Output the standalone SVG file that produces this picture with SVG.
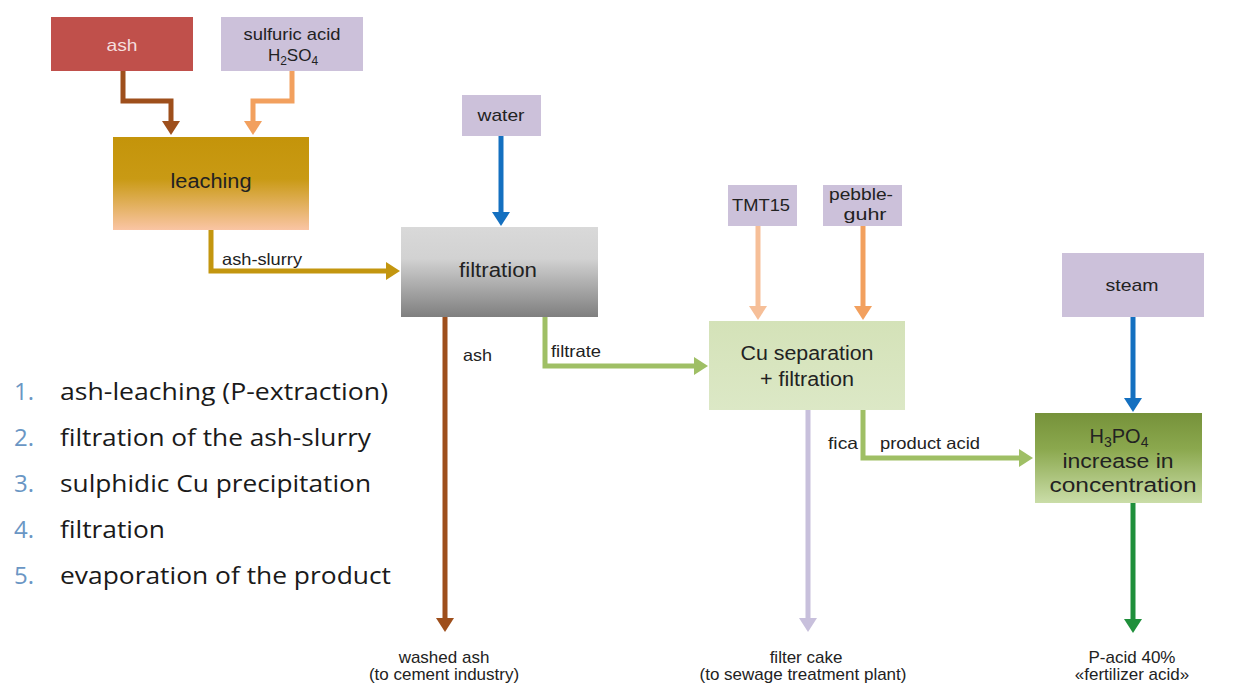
<svg xmlns="http://www.w3.org/2000/svg" width="1233" height="684" viewBox="0 0 1233 684">
<style>
.lbl{font-family:"Liberation Sans",Arial,sans-serif;fill:#222222;text-anchor:middle}
.big{font-size:20px}
.mid{font-size:17px}
.sm{font-size:17px}
.cl{font-family:"Liberation Sans",Arial,sans-serif;font-size:16.5px;fill:#222222}
.list{font-family:"Open Sans","Noto Sans",sans-serif;font-size:24px;fill:#1a1a1a}
.num{font-family:"Open Sans","Noto Sans",sans-serif;font-size:24px;fill:#6a96c4}
.c{fill:none;stroke-width:5}
.lav{fill:#ccc1da}
</style>
<defs>
<linearGradient id="gLeach" x1="0" y1="0" x2="0" y2="1">
<stop offset="0" stop-color="#c4940a"/><stop offset="0.45" stop-color="#c99a14"/><stop offset="1" stop-color="#fac5a4"/>
</linearGradient>
<linearGradient id="gFilt" x1="0" y1="0" x2="0" y2="1">
<stop offset="0" stop-color="#d9d9d9"/><stop offset="0.35" stop-color="#d2d2d2"/><stop offset="1" stop-color="#7f7f7f"/>
</linearGradient>
<linearGradient id="gCu" x1="0" y1="0" x2="0" y2="1">
<stop offset="0" stop-color="#d4e2b8"/><stop offset="1" stop-color="#dce8c6"/>
</linearGradient>
<linearGradient id="gH" x1="0" y1="0" x2="0" y2="1">
<stop offset="0" stop-color="#76923a"/><stop offset="0.4" stop-color="#8ba84e"/><stop offset="1" stop-color="#cadda8"/>
</linearGradient>
<marker id="mBrown" markerUnits="userSpaceOnUse" markerWidth="14" markerHeight="18" refX="4" refY="9" orient="auto"><path d="M0,0 L14,9 L0,18 z" fill="#9e4f1c"/></marker>
<marker id="mOrange" markerUnits="userSpaceOnUse" markerWidth="14" markerHeight="18" refX="4" refY="9" orient="auto"><path d="M0,0 L14,9 L0,18 z" fill="#f2a05e"/></marker>
<marker id="mPeach" markerUnits="userSpaceOnUse" markerWidth="14" markerHeight="18" refX="4" refY="9" orient="auto"><path d="M0,0 L14,9 L0,18 z" fill="#f6bf98"/></marker>
<marker id="mGold" markerUnits="userSpaceOnUse" markerWidth="14" markerHeight="18" refX="4" refY="9" orient="auto"><path d="M0,0 L14,9 L0,18 z" fill="#c3960f"/></marker>
<marker id="mBlue" markerUnits="userSpaceOnUse" markerWidth="14" markerHeight="18" refX="4" refY="9" orient="auto"><path d="M0,0 L14,9 L0,18 z" fill="#1470c0"/></marker>
<marker id="mLGreen" markerUnits="userSpaceOnUse" markerWidth="14" markerHeight="18" refX="4" refY="9" orient="auto"><path d="M0,0 L14,9 L0,18 z" fill="#9fbf65"/></marker>
<marker id="mLav" markerUnits="userSpaceOnUse" markerWidth="14" markerHeight="18" refX="4" refY="9" orient="auto"><path d="M0,0 L14,9 L0,18 z" fill="#c8c0dc"/></marker>
<marker id="mDGreen" markerUnits="userSpaceOnUse" markerWidth="14" markerHeight="18" refX="4" refY="9" orient="auto"><path d="M0,0 L14,9 L0,18 z" fill="#1f8f3b"/></marker>
</defs>
<rect width="1233" height="684" fill="#ffffff"/>

<g id="connectors">
<path class="c" d="M123,71 V101 H171 V125" stroke="#9e4f1c" marker-end="url(#mBrown)"/>
<path class="c" d="M292,71 V101 H253 V125" stroke="#f2a05e" marker-end="url(#mOrange)"/>
<path class="c" d="M211,230 V271 H390" stroke="#c3960f" marker-end="url(#mGold)"/>
<path class="c" d="M501,136 V216" stroke="#1470c0" marker-end="url(#mBlue)"/>
<path class="c" d="M445,317 V622" stroke="#9e4f1c" marker-end="url(#mBrown)"/>
<path class="c" d="M545,317 V366 H698" stroke="#9fbf65" marker-end="url(#mLGreen)"/>
<path class="c" d="M758,226 V310" stroke="#f6bf98" marker-end="url(#mPeach)"/>
<path class="c" d="M863,226 V310" stroke="#f2a05e" marker-end="url(#mOrange)"/>
<path class="c" d="M808,410 V622" stroke="#c8c0dc" stroke-width="4" marker-end="url(#mLav)"/>
<path class="c" d="M863,410 V458 H1023" stroke="#9fbf65" marker-end="url(#mLGreen)"/>
<path class="c" d="M1133,317 V402" stroke="#1470c0" marker-end="url(#mBlue)"/>
<path class="c" d="M1133,503 V623" stroke="#1f8f3b" marker-end="url(#mDGreen)"/>
<text class="cl" x="222" y="265" textLength="80" lengthAdjust="spacingAndGlyphs">ash-slurry</text>
<text class="cl" x="463" y="361" textLength="29" lengthAdjust="spacingAndGlyphs">ash</text>
<text class="cl" x="551" y="357" textLength="50" lengthAdjust="spacingAndGlyphs">filtrate</text>
<text class="cl" x="828" y="449" textLength="30" lengthAdjust="spacingAndGlyphs">fica</text>
<text class="cl" x="880" y="449" textLength="100" lengthAdjust="spacingAndGlyphs">product acid</text>
</g>

<g id="node-ash"><rect x="51" y="17" width="142" height="54" fill="#c0504b"/><text class="lbl mid" x="122" y="51" style="fill:#f5dede" textLength="31" lengthAdjust="spacingAndGlyphs">ash</text></g>
<g id="node-sulfuric"><rect class="lav" x="221" y="17" width="142" height="54"/><text class="lbl mid" x="292" y="40" textLength="97" lengthAdjust="spacingAndGlyphs">sulfuric acid</text><text class="lbl mid" x="293" y="61" font-size="18">H<tspan font-size="12" dy="4">2</tspan><tspan dy="-4">SO</tspan><tspan font-size="12" dy="4">4</tspan></text></g>
<g id="node-leaching"><rect x="113" y="137" width="196" height="93" fill="url(#gLeach)"/><text class="lbl big" x="211" y="188" textLength="81" lengthAdjust="spacingAndGlyphs">leaching</text></g>
<g id="node-water"><rect class="lav" x="462" y="95" width="79" height="41"/><text class="lbl mid" x="501" y="121" textLength="47" lengthAdjust="spacingAndGlyphs">water</text></g>
<g id="node-filtration"><rect x="401" y="227" width="197" height="90" fill="url(#gFilt)"/><text class="lbl big" x="498" y="277" textLength="78" lengthAdjust="spacingAndGlyphs">filtration</text></g>
<g id="node-tmt15"><rect class="lav" x="728" y="185" width="69" height="41"/><text class="lbl mid" x="761" y="211" textLength="58" lengthAdjust="spacingAndGlyphs">TMT15</text></g>
<g id="node-pebble"><rect class="lav" x="823" y="185" width="79" height="41"/><text class="lbl mid" x="861" y="200" textLength="64" lengthAdjust="spacingAndGlyphs">pebble-</text><text class="lbl mid" x="865" y="220" textLength="43" lengthAdjust="spacingAndGlyphs">guhr</text></g>
<g id="node-cu"><rect x="709" y="321" width="196" height="89" fill="url(#gCu)"/><text class="lbl big" x="807" y="360" textLength="133" lengthAdjust="spacingAndGlyphs">Cu separation</text><text class="lbl big" x="807" y="386" textLength="94" lengthAdjust="spacingAndGlyphs">+ filtration</text></g>
<g id="node-steam"><rect class="lav" x="1062" y="253" width="142" height="64"/><text class="lbl mid" x="1132" y="291" textLength="53" lengthAdjust="spacingAndGlyphs">steam</text></g>
<g id="node-h3po4"><rect x="1035" y="413" width="167" height="90" fill="url(#gH)"/><text class="lbl big" x="1119" y="443" font-size="21">H<tspan font-size="14" dy="4">3</tspan><tspan dy="-4">PO</tspan><tspan font-size="14" dy="4">4</tspan></text><text class="lbl big" x="1118" y="468" textLength="111" lengthAdjust="spacingAndGlyphs">increase in</text><text class="lbl big" x="1123" y="492" textLength="147" lengthAdjust="spacingAndGlyphs">concentration</text></g>

<g id="outputs">
<text class="lbl sm" x="444" y="663">washed ash</text><text class="lbl sm" x="444" y="680">(to cement industry)</text>
<text class="lbl sm" x="806" y="663">filter cake</text><text class="lbl sm" x="803" y="680">(to sewage treatment plant)</text>
<text class="lbl sm" x="1132" y="663">P-acid 40%</text><text class="lbl sm" x="1132" y="680">«fertilizer acid»</text>
</g>

<g id="steps">
<text class="num" x="14" y="400">1.</text><text class="list" x="60" y="400" textLength="328" lengthAdjust="spacingAndGlyphs">ash-leaching (P-extraction)</text>
<text class="num" x="14" y="446">2.</text><text class="list" x="60" y="446" textLength="311" lengthAdjust="spacingAndGlyphs">filtration of the ash-slurry</text>
<text class="num" x="14" y="492">3.</text><text class="list" x="60" y="492" textLength="311" lengthAdjust="spacingAndGlyphs">sulphidic Cu precipitation</text>
<text class="num" x="14" y="538">4.</text><text class="list" x="60" y="538" textLength="105" lengthAdjust="spacingAndGlyphs">filtration</text>
<text class="num" x="14" y="584">5.</text><text class="list" x="60" y="584" textLength="331" lengthAdjust="spacingAndGlyphs">evaporation of the product</text>
</g>
</svg>
